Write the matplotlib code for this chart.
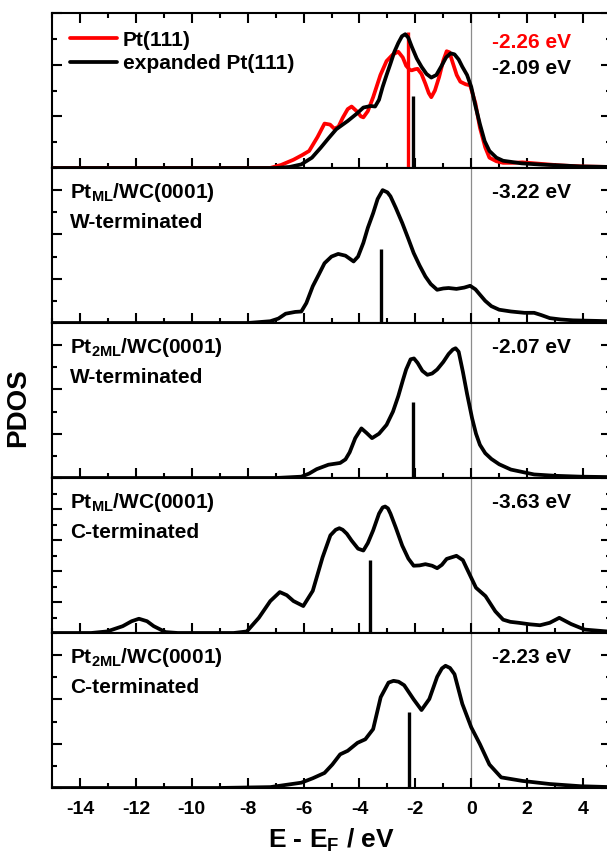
import matplotlib
matplotlib.use("Agg")
import matplotlib.pyplot as plt
from matplotlib.ticker import MultipleLocator

plt.rcParams['font.family'] = ['Liberation Sans', 'DejaVu Sans']
plt.rcParams['font.weight'] = 'bold'
plt.rcParams['mathtext.fontset'] = 'custom'
plt.rcParams['mathtext.rm'] = 'Liberation Sans:bold'
plt.rcParams['mathtext.bf'] = 'Liberation Sans:bold'
plt.rcParams['mathtext.it'] = 'Liberation Sans:bold'

# ---------------- data ----------------
# Panel 1: Pt(111) and expanded Pt(111)
e_pt111 = [-15, -7.2, -6.8, -6.36, -6.05, -5.8, -5.5, -5.25, -5.05, -4.9, -4.75, -4.6, -4.42, -4.28,
           -4.1, -3.95, -3.86, -3.7, -3.51, -3.25, -3.03, -2.8, -2.61, -2.45, -2.33, -2.2, -2.13,
           -2.02, -1.92, -1.78, -1.64, -1.52, -1.43, -1.3, -1.15, -1.0, -0.88, -0.78, -0.67, -0.52,
           -0.39, -0.2, -0.04, 0.15, 0.31, 0.5, 0.65, 0.9, 1.14, 1.5, 1.83, 2.5, 3.2, 4.0, 5.0]
pdos_pt111 = [0.0, 0.0, 0.06, 0.16, 0.25, 0.33, 0.6, 0.86, 0.84, 0.76, 0.8, 0.97, 1.14, 1.19,
              1.1, 1.0, 0.98, 1.1, 1.37, 1.8, 2.07, 2.2, 2.25, 2.14, 1.98, 1.9, 1.89,
              1.91, 1.92, 1.82, 1.63, 1.45, 1.37, 1.5, 1.76, 2.08, 2.26, 2.24, 2.05, 1.8,
              1.67, 1.62, 1.6, 1.25, 0.78, 0.4, 0.2, 0.13, 0.1, 0.1, 0.11, 0.08, 0.05, 0.03, 0.02]
e_exp = [-15, -7.0, -6.5, -6.08, -5.7, -5.39, -5.1, -4.83, -4.6, -4.42, -4.1, -3.86, -3.6, -3.44, -3.3,
         -3.17, -3.03, -2.89, -2.75, -2.61, -2.48, -2.36, -2.25, -2.13, -1.95, -1.78, -1.6, -1.43,
         -1.25, -1.08, -0.9, -0.74, -0.6, -0.45, -0.32, -0.15, 0.0, 0.15, 0.31, 0.48, 0.65, 0.9,
         1.14, 1.8, 2.53, 3.2, 3.92, 5.0]
pdos_exp = [0.0, 0.0, 0.02, 0.07, 0.2, 0.39, 0.58, 0.75, 0.84, 0.91, 1.05, 1.17, 1.2, 1.19, 1.32,
            1.57, 1.8, 2.02, 2.25, 2.42, 2.55, 2.59, 2.52, 2.35, 2.12, 1.96, 1.82, 1.75,
            1.8, 1.96, 2.14, 2.22, 2.2, 2.1, 1.96, 1.8, 1.57, 1.2, 0.85, 0.52, 0.33, 0.2,
            0.14, 0.09, 0.065, 0.05, 0.03, 0.02]
dband_pt111, dband_exp = -2.26, -2.09
bar_pt111, bar_exp = 2.64, 1.40

# Panel 2: Pt_ML/WC(0001) W-terminated
e_2 = [-15, -8.0, -7.19, -6.9, -6.64, -6.3, -6.08, -5.9, -5.67, -5.45, -5.25, -5.0, -4.76, -4.5,
       -4.21, -4.05, -3.86, -3.7, -3.51, -3.35, -3.17, -3.0, -2.89, -2.7, -2.47, -2.25, -2.06,
       -1.85, -1.64, -1.45, -1.22, -1.0, -0.81, -0.53, -0.25, -0.04, 0.15, 0.31, 0.5, 0.72,
       1.0, 1.42, 1.9, 2.25, 2.5, 2.81, 3.2, 3.64, 5.0]
pdos_2 = [0.0, 0.0, 0.04, 0.1, 0.21, 0.25, 0.26, 0.45, 0.83, 1.1, 1.35, 1.5, 1.56, 1.52,
          1.39, 1.5, 1.81, 2.15, 2.48, 2.8, 3.0, 2.95, 2.86, 2.6, 2.26, 1.9, 1.58,
          1.3, 1.05, 0.88, 0.75, 0.78, 0.79, 0.77, 0.8, 0.84, 0.76, 0.64, 0.5, 0.38,
          0.3, 0.26, 0.23, 0.23, 0.18, 0.11, 0.08, 0.06, 0.04]
dband_2, bar_2 = -3.22, 1.67

# Panel 3: Pt_2ML/WC(0001) W-terminated
e_3 = [-15, -7.0, -6.08, -5.8, -5.53, -5.11, -4.69, -4.5, -4.35, -4.15, -3.93, -3.75, -3.55, -3.3,
       -3.03, -2.8, -2.61, -2.45, -2.33, -2.17, -2.05, -1.92, -1.75, -1.57, -1.4, -1.22, -1.0,
       -0.81, -0.66, -0.56, -0.45, -0.3, -0.15, 0.03, 0.17, 0.31, 0.5, 0.72, 1.0, 1.42, 2.25,
       3.0, 3.92, 5.0]
pdos_3 = [0.0, 0.0, 0.03, 0.1, 0.2, 0.3, 0.34, 0.42, 0.58, 0.9, 1.12, 1.02, 0.9, 1.0,
          1.2, 1.5, 1.85, 2.2, 2.45, 2.68, 2.7, 2.6, 2.42, 2.33, 2.36, 2.45, 2.62,
          2.8, 2.9, 2.93, 2.85, 2.4, 1.9, 1.35, 1.0, 0.75, 0.56, 0.43, 0.31, 0.19, 0.08,
          0.05, 0.03, 0.02]
dband_3, bar_3 = -2.07, 1.72

# Panel 4: Pt_ML/WC(0001) C-terminated
e_4 = [-15, -13.6, -13.03, -12.47, -12.15, -11.89, -11.6, -11.36, -10.94, -10.5, -8.5, -8.03, -7.6,
       -7.19, -6.85, -6.6, -6.36, -6.01, -5.67, -5.32, -5.04, -4.85, -4.72, -4.6, -4.45, -4.28,
       -4.05, -3.86, -3.7, -3.51, -3.3, -3.17, -3.08, -2.98, -2.89, -2.7, -2.47, -2.25, -2.06,
       -1.85, -1.64, -1.4, -1.22, -1.05, -0.88, -0.53, -0.3, -0.18, 0.17, 0.51, 0.86, 1.14, 1.4,
       1.69, 2.1, 2.46, 2.81, 3.15, 3.57, 4.06, 5.0]
pdos_4 = [0.0, 0.0, 0.05, 0.22, 0.38, 0.46, 0.38, 0.22, 0.03, 0.0, 0.0, 0.05, 0.49,
          1.03, 1.32, 1.22, 1.03, 0.87, 1.36, 2.44, 3.15, 3.33, 3.38, 3.33, 3.2, 2.98,
          2.72, 2.66, 2.9, 3.31, 3.85, 4.05, 4.08, 4.02, 3.85, 3.4, 2.82, 2.4, 2.17,
          2.18, 2.22, 2.17, 2.09, 2.2, 2.39, 2.49, 2.35, 2.12, 1.46, 1.19, 0.7, 0.43, 0.36,
          0.33, 0.28, 0.25, 0.33, 0.49, 0.29, 0.11, 0.04]
dband_4, bar_4 = -3.63, 2.36

# Panel 5: Pt_2ML/WC(0001) C-terminated
e_5 = [-15, -9.1, -7.19, -6.08, -5.67, -5.25, -4.97, -4.69, -4.42, -4.07, -3.79, -3.51, -3.24,
       -2.96, -2.78, -2.6, -2.4, -2.06, -1.78, -1.5, -1.22, -1.05, -0.92, -0.76, -0.6, -0.32,
       0.0, 0.31, 0.65, 1.07, 1.83, 2.81, 3.92, 5.0]
pdos_5 = [0.0, 0.0, 0.02, 0.12, 0.22, 0.34, 0.53, 0.76, 0.84, 1.02, 1.10, 1.33, 2.05,
          2.38, 2.42, 2.4, 2.32, 2.0, 1.76, 2.01, 2.51, 2.7, 2.76, 2.71, 2.57, 1.9,
          1.37, 0.99, 0.53, 0.24, 0.16, 0.09, 0.04, 0.02]
dband_5, bar_5 = -2.23, 1.71

xticks = [-14, -12, -10, -8, -6, -4, -2, 0, 2, 4]
xtick_labels = ['-14', '-12', '-10', '-8', '-6', '-4', '-2', '0', '2', '4']

# ---------------- figure ----------------
W, H = 607, 859
fig = plt.figure(figsize=(W / 100, H / 100), dpi=100)

left_px, right_px, top_px, bottom_px = 52, 611, 13, 788
n = 5
ph = (bottom_px - top_px) / n
ylims = [3.0, 3.5, 3.5, 5.0, 3.5]
axes = []
for i in range(n):
    y0 = top_px + i * ph
    ax = fig.add_axes([left_px / W, 1 - (y0 + ph) / H, (right_px - left_px) / W, ph / H])
    axes.append(ax)

spine_lw = 1.5
curve_lw = 2.7
bar_lw = 2.4
fs = 15
for i, ax in enumerate(axes):
    ax.set_xlim(-15, 5)
    ax.set_ylim(0, ylims[i])
    for s in ax.spines.values():
        s.set_linewidth(spine_lw)
    ax.axvline(0, color='#8c8c8c', lw=0.9, zorder=1)
    ax.xaxis.set_major_locator(MultipleLocator(2))
    ax.xaxis.set_minor_locator(MultipleLocator(1))
    ax.yaxis.set_major_locator(MultipleLocator(1))
    ax.yaxis.set_minor_locator(MultipleLocator(0.5))
    ax.tick_params(which='both', direction='in', width=1.5, left=True, right=True,
                   bottom=True, top=(i == 0), labelleft=False, labelright=False,
                   labelbottom=(i == n - 1))
    ax.tick_params(which='major', length=7)
    ax.tick_params(which='minor', length=3.5)

# Panel 1
ax = axes[0]
ax.plot(e_pt111, pdos_pt111, color='#ff0000', lw=curve_lw, label='Pt(111)', zorder=3,
        solid_joinstyle='round', solid_capstyle='round')
ax.plot(e_exp, pdos_exp, color='black', lw=curve_lw, label='expanded Pt(111)', zorder=4,
        solid_joinstyle='round', solid_capstyle='round')
ax.vlines(dband_pt111, 0, bar_pt111, color='#ff0000', lw=bar_lw, zorder=3)
ax.vlines(dband_exp, 0, bar_exp, color='black', lw=bar_lw, zorder=4)
leg = ax.legend(loc='upper left', bbox_to_anchor=(0.018, 0.94), frameon=False,
                fontsize=fs, handlelength=2.26, handletextpad=0.25, labelspacing=0.2,
                borderaxespad=0.0)
for t in leg.get_texts():
    t.set_fontweight('bold')
ax.text(0.857, 0.81, '-2.26 eV', transform=ax.transAxes, color='#ff0000', fontsize=fs,
        fontweight='bold', ha='center', va='center')
ax.text(0.857, 0.64, '-2.09 eV', transform=ax.transAxes, color='black', fontsize=fs,
        fontweight='bold', ha='center', va='center')

panels = [
    (e_2, pdos_2, dband_2, bar_2, r'Pt$_{\mathbf{ML}}$/WC(0001)', 'W-terminated', '-3.22 eV'),
    (e_3, pdos_3, dband_3, bar_3, r'Pt$_{\mathbf{2ML}}$/WC(0001)', 'W-terminated', '-2.07 eV'),
    (e_4, pdos_4, dband_4, bar_4, r'Pt$_{\mathbf{ML}}$/WC(0001)', 'C-terminated', '-3.63 eV'),
    (e_5, pdos_5, dband_5, bar_5, r'Pt$_{\mathbf{2ML}}$/WC(0001)', 'C-terminated', '-2.23 eV'),
]
for ax, (e, p, db, bh, l1, l2, ev) in zip(axes[1:], panels):
    ax.plot(e, p, color='black', lw=curve_lw, zorder=3, solid_joinstyle='round',
            solid_capstyle='round')
    ax.vlines(db, 0, bh, color='black', lw=bar_lw, zorder=3)
    ax.text(0.032, 0.845, l1, transform=ax.transAxes, fontsize=fs, fontweight='bold',
            ha='left', va='center')
    ax.text(0.032, 0.648, l2, transform=ax.transAxes, fontsize=fs, fontweight='bold',
            ha='left', va='center')
    ax.text(0.857, 0.845, ev, transform=ax.transAxes, fontsize=fs, fontweight='bold',
            ha='center', va='center')

axb = axes[-1]
axb.set_xticks(xticks)
axb.set_xticklabels(xtick_labels, fontsize=14, fontweight='bold')
axb.tick_params(axis='x', which='major', pad=9)
axb.set_xlabel(r'E - E$_{\mathbf{F}}$ / eV', fontsize=19, fontweight='bold', labelpad=7)

fig.text(18 / W, 1 - 408 / H, 'PDOS', rotation=90, fontsize=20, fontweight='bold',
         ha='center', va='center')

fig.savefig('out.png', dpi=100)
